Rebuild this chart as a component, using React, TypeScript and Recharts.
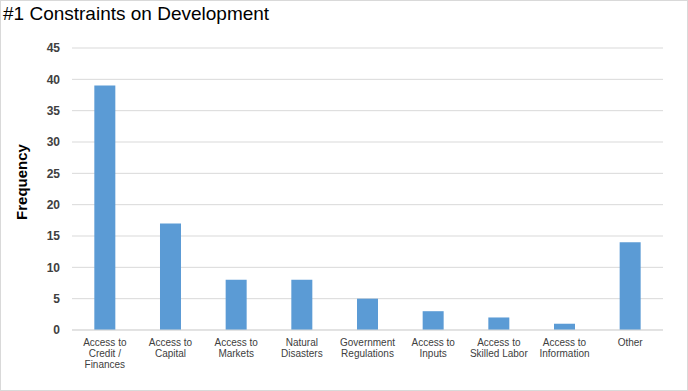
import { BarChart, Bar, XAxis, YAxis, CartesianGrid } from 'recharts'

const categories = [
  'Access to|Credit /|Finances',
  'Access to|Capital',
  'Access to|Markets',
  'Natural|Disasters',
  'Government|Regulations',
  'Access to|Inputs',
  'Access to|Skilled Labor',
  'Access to|Information',
  'Other',
]
const frequency = [39, 17, 8, 8, 5, 3, 2, 1, 14]
const yTicks = [0, 5, 10, 15, 20, 25, 30, 35, 40, 45]

const data = categories.map((name, i) => ({ name, frequency: frequency[i] }))

const font = '"Liberation Sans", Arial, sans-serif'

function CategoryTick({ x, y, payload }: any) {
  const lines = String(payload.value).split('|')
  return (
    <text x={x} y={y} textAnchor="middle" fontFamily={font} fontSize={10} fill="#404040">
      {lines.map((line, i) => (
        <tspan key={i} x={x} dy={i === 0 ? 8 : 11}>
          {line}
        </tspan>
      ))}
    </text>
  )
}

export default function App() {
  return (
    <div
      style={{
        position: 'absolute',
        left: 0,
        top: 0,
        width: 686,
        height: 389,
        border: '1px solid #d9d9d9',
        background: '#fff',
        fontFamily: font,
      }}
    >
      <div style={{ position: 'absolute', left: 2, top: 2, fontSize: 19, color: '#000' }}>
        #1 Constraints on Development
      </div>
      <div style={{ position: 'absolute', left: -1, top: -1 }}>
        <BarChart
          width={688}
          height={391}
          data={data}
          margin={{ top: 48, right: 25, bottom: 0, left: 0 }}
          barCategoryGap="34%"
        >
          <CartesianGrid vertical={false} stroke="#d9d9d9" />
          <XAxis
            dataKey="name"
            interval={0}
            height={61}
            tick={<CategoryTick />}
            tickLine={false}
            axisLine={{ stroke: '#d9d9d9' }}
          />
          <YAxis
            width={72}
            domain={[0, 45]}
            ticks={yTicks}
            tickLine={false}
            axisLine={false}
            tickSize={0}
            tickMargin={12}
            tick={{ fontFamily: font, fontSize: 12, fontWeight: 'bold', fill: '#404040' }}
            label={{
              value: 'Frequency',
              angle: -90,
              position: 'insideLeft',
              dx: 17,
              dy: -7,
              style: { fontFamily: font, fontSize: 15, fontWeight: 'bold', fill: '#000', textAnchor: 'middle' },
            }}
          />
          <Bar dataKey="frequency" fill="#5b9bd5" isAnimationActive={false} />
        </BarChart>
      </div>
    </div>
  )
}
